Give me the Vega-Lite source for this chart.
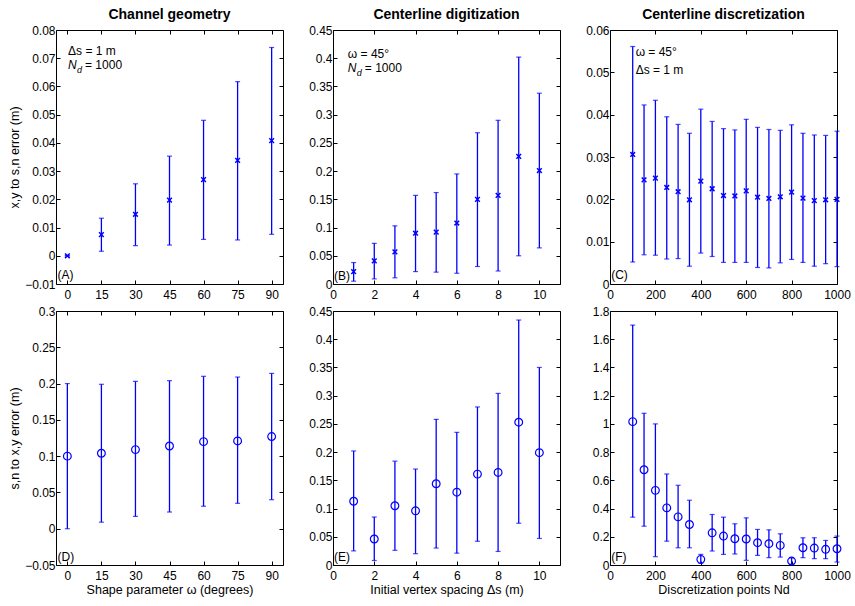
{
  "$schema": "https://vega.github.io/schema/vega-lite/v6.json",
  "background": "white",
  "padding": {"left": 8, "top": 7, "right": 5, "bottom": 5},
  "bounds": "flush",
  "columns": 3,
  "spacing": {"row": 27, "column": 50},
  "config": {
    "font": "Liberation Sans",
    "view": {"stroke": "black", "strokeWidth": 1},
    "axis": {"grid": false, "domain": false, "tickColor": "black", "tickSize": -4, "labelFontSize": 12, "labelColor": "black", "labelFont": "Liberation Sans", "titleFont": "Liberation Sans", "titleFontSize": 12.5, "titleFontWeight": "normal", "titleColor": "black", "labelPadding": 9, "labelFlush": false, "labelOverlap": false},
    "axisY": {"titlePadding": 3, "labelPadding": 5},
    "title": {"fontSize": 14, "fontWeight": "bold", "font": "Liberation Sans", "color": "black", "offset": 2}
  },
  "concat": [
    {
      "title": "Channel geometry",
      "width": 227, "height": 254,
      "data": {"values": [
        {"x": 0, "y": 0, "lo": 0, "hi": 0},
        {"x": 15, "y": 0.0075, "lo": 0.0016, "hi": 0.0133},
        {"x": 30, "y": 0.0147, "lo": 0.0036, "hi": 0.0255},
        {"x": 45, "y": 0.0197, "lo": 0.0038, "hi": 0.0353},
        {"x": 60, "y": 0.027, "lo": 0.0058, "hi": 0.048},
        {"x": 75, "y": 0.0338, "lo": 0.0056, "hi": 0.0617},
        {"x": 90, "y": 0.0408, "lo": 0.0076, "hi": 0.0738}
      ]},
      "layer": [
        {"mark": {"type": "rule", "color": "#0000ff", "strokeWidth": 1.3},
         "encoding": {
           "x": {"field": "x", "type": "quantitative", "scale": {"domain": [-5, 95], "nice": false}, "axis": {"values": [0, 15, 30, 45, 60, 75, 90], "title": null}},
           "y": {"field": "lo", "type": "quantitative", "scale": {"domain": [-0.01, 0.08], "nice": false}, "axis": {"values": [-0.01, 0, 0.01, 0.02, 0.03, 0.04, 0.05, 0.06, 0.07, 0.08], "format": ".2~f", "title": "x,y to s,n error (m)"}},
           "y2": {"field": "hi"}}},
        {"mark": {"type": "tick", "orient": "horizontal", "color": "#0000ff", "size": 5, "thickness": 1.2},
         "encoding": {"x": {"field": "x", "type": "quantitative", "axis": null}, "y": {"field": "lo", "type": "quantitative", "axis": null}}},
        {"mark": {"type": "tick", "orient": "horizontal", "color": "#0000ff", "size": 5, "thickness": 1.2},
         "encoding": {"x": {"field": "x", "type": "quantitative", "axis": null}, "y": {"field": "hi", "type": "quantitative", "axis": null}}},
        {"mark": {"type": "point", "shape": "M-1,-1L1,1M-1,1L1,-1", "filled": false, "color": "#0000ff", "strokeWidth": 1.5, "size": 22, "opacity": 1},
         "encoding": {
           "x": {"field": "x", "type": "quantitative", "axis": {"orient": "top", "labels": false, "title": null, "values": [0, 15, 30, 45, 60, 75, 90]}},
           "y": {"field": "y", "type": "quantitative", "axis": {"orient": "right", "labels": false, "title": null, "values": [-0.01, 0, 0.01, 0.02, 0.03, 0.04, 0.05, 0.06, 0.07, 0.08]}}}},
        {"data": {"values": [{"x": 0.3, "y": 0.0726, "t": "Δs = 1 m"}, {"x": -4.3, "y": -0.0068, "t": "(A)"}]},
         "mark": {"type": "text", "align": "left", "baseline": "middle", "fontSize": 12, "color": "black"},
         "encoding": {"x": {"field": "x", "type": "quantitative", "axis": null}, "y": {"field": "y", "type": "quantitative", "axis": null}, "text": {"field": "t"}}},
        {"data": {"values": [{"x": 0.3, "y": 0.0676}]},
         "layer": [
           {"mark": {"type": "text", "align": "left", "baseline": "middle", "fontSize": 12, "fontStyle": "italic", "color": "black", "text": "N"}},
           {"mark": {"type": "text", "align": "left", "baseline": "middle", "fontSize": 9, "fontStyle": "italic", "color": "black", "text": "d", "dx": 9, "dy": 5}},
           {"mark": {"type": "text", "align": "left", "baseline": "middle", "fontSize": 12, "color": "black", "text": "= 1000", "dx": 17}}
         ],
         "encoding": {"x": {"field": "x", "type": "quantitative", "axis": null}, "y": {"field": "y", "type": "quantitative", "axis": null}}}
      ],
      "resolve": {"axis": {"x": "independent", "y": "independent"}}
    },
    {
      "title": "Centerline digitization",
      "width": 227, "height": 254,
      "data": {"values": [
        {"x": 1, "y": 0.022, "lo": 0.005, "hi": 0.038},
        {"x": 2, "y": 0.041, "lo": 0.009, "hi": 0.072},
        {"x": 3, "y": 0.057, "lo": 0.011, "hi": 0.103},
        {"x": 4, "y": 0.09, "lo": 0.022, "hi": 0.157},
        {"x": 5, "y": 0.092, "lo": 0.021, "hi": 0.162},
        {"x": 6, "y": 0.108, "lo": 0.019, "hi": 0.195},
        {"x": 7, "y": 0.15, "lo": 0.031, "hi": 0.268},
        {"x": 8, "y": 0.157, "lo": 0.023, "hi": 0.29},
        {"x": 9, "y": 0.226, "lo": 0.05, "hi": 0.402},
        {"x": 10, "y": 0.201, "lo": 0.064, "hi": 0.338}
      ]},
      "layer": [
        {"mark": {"type": "rule", "color": "#0000ff", "strokeWidth": 1.3},
         "encoding": {
           "x": {"field": "x", "type": "quantitative", "scale": {"domain": [0, 11], "nice": false}, "axis": {"values": [0, 2, 4, 6, 8, 10], "title": null}},
           "y": {"field": "lo", "type": "quantitative", "scale": {"domain": [0, 0.45], "nice": false}, "axis": {"values": [0, 0.05, 0.1, 0.15, 0.2, 0.25, 0.3, 0.35, 0.4, 0.45], "format": ".2~f", "title": null}},
           "y2": {"field": "hi"}}},
        {"mark": {"type": "tick", "orient": "horizontal", "color": "#0000ff", "size": 5, "thickness": 1.2},
         "encoding": {"x": {"field": "x", "type": "quantitative", "axis": null}, "y": {"field": "lo", "type": "quantitative", "axis": null}}},
        {"mark": {"type": "tick", "orient": "horizontal", "color": "#0000ff", "size": 5, "thickness": 1.2},
         "encoding": {"x": {"field": "x", "type": "quantitative", "axis": null}, "y": {"field": "hi", "type": "quantitative", "axis": null}}},
        {"mark": {"type": "point", "shape": "M-1,-1L1,1M-1,1L1,-1", "filled": false, "color": "#0000ff", "strokeWidth": 1.5, "size": 22, "opacity": 1},
         "encoding": {
           "x": {"field": "x", "type": "quantitative", "axis": {"orient": "top", "labels": false, "title": null, "values": [0, 2, 4, 6, 8, 10]}},
           "y": {"field": "y", "type": "quantitative", "axis": {"orient": "right", "labels": false, "title": null, "values": [0, 0.05, 0.1, 0.15, 0.2, 0.25, 0.3, 0.35, 0.4, 0.45]}}}},
        {"data": {"values": [{"x": 0.72, "y": 0.4075, "t": "ω = 45°"}, {"x": 0.05, "y": 0.015, "t": "(B)"}]},
         "mark": {"type": "text", "align": "left", "baseline": "middle", "fontSize": 12, "color": "black"},
         "encoding": {"x": {"field": "x", "type": "quantitative", "axis": null}, "y": {"field": "y", "type": "quantitative", "axis": null}, "text": {"field": "t"}}},
        {"data": {"values": [{"x": 0.72, "y": 0.3827}]},
         "layer": [
           {"mark": {"type": "text", "align": "left", "baseline": "middle", "fontSize": 12, "fontStyle": "italic", "color": "black", "text": "N"}},
           {"mark": {"type": "text", "align": "left", "baseline": "middle", "fontSize": 9, "fontStyle": "italic", "color": "black", "text": "d", "dx": 9, "dy": 5}},
           {"mark": {"type": "text", "align": "left", "baseline": "middle", "fontSize": 12, "color": "black", "text": "= 1000", "dx": 17}}
         ],
         "encoding": {"x": {"field": "x", "type": "quantitative", "axis": null}, "y": {"field": "y", "type": "quantitative", "axis": null}}}
      ],
      "resolve": {"axis": {"x": "independent", "y": "independent"}}
    },
    {
      "title": "Centerline discretization",
      "width": 227, "height": 254,
      "data": {"values": [
        {"x": 100, "y": 0.0306, "lo": 0.0052, "hi": 0.0561},
        {"x": 150, "y": 0.0246, "lo": 0.0069, "hi": 0.0423},
        {"x": 200, "y": 0.025, "lo": 0.0068, "hi": 0.0434},
        {"x": 250, "y": 0.0228, "lo": 0.0059, "hi": 0.0395},
        {"x": 300, "y": 0.0218, "lo": 0.006, "hi": 0.0377},
        {"x": 350, "y": 0.0199, "lo": 0.0042, "hi": 0.0356},
        {"x": 400, "y": 0.0243, "lo": 0.0073, "hi": 0.0413},
        {"x": 450, "y": 0.0225, "lo": 0.0065, "hi": 0.0384},
        {"x": 500, "y": 0.0209, "lo": 0.0051, "hi": 0.0367},
        {"x": 550, "y": 0.0208, "lo": 0.0051, "hi": 0.0364},
        {"x": 600, "y": 0.022, "lo": 0.0051, "hi": 0.0389},
        {"x": 650, "y": 0.0205, "lo": 0.0039, "hi": 0.037},
        {"x": 700, "y": 0.0202, "lo": 0.0038, "hi": 0.0365},
        {"x": 750, "y": 0.0206, "lo": 0.005, "hi": 0.0363},
        {"x": 800, "y": 0.0217, "lo": 0.0058, "hi": 0.0376},
        {"x": 850, "y": 0.0203, "lo": 0.0051, "hi": 0.0356},
        {"x": 900, "y": 0.0197, "lo": 0.0042, "hi": 0.0352},
        {"x": 950, "y": 0.0199, "lo": 0.0048, "hi": 0.0351},
        {"x": 1000, "y": 0.02, "lo": 0.0041, "hi": 0.0361}
      ]},
      "layer": [
        {"mark": {"type": "rule", "color": "#0000ff", "strokeWidth": 1.3},
         "encoding": {
           "x": {"field": "x", "type": "quantitative", "scale": {"domain": [0, 1000], "nice": false}, "axis": {"values": [0, 200, 400, 600, 800, 1000], "format": "d", "title": null}},
           "y": {"field": "lo", "type": "quantitative", "scale": {"domain": [0, 0.06], "nice": false}, "axis": {"values": [0, 0.01, 0.02, 0.03, 0.04, 0.05, 0.06], "format": ".2~f", "title": null}},
           "y2": {"field": "hi"}}},
        {"mark": {"type": "tick", "orient": "horizontal", "color": "#0000ff", "size": 5, "thickness": 1.2},
         "encoding": {"x": {"field": "x", "type": "quantitative", "axis": null}, "y": {"field": "lo", "type": "quantitative", "axis": null}}},
        {"mark": {"type": "tick", "orient": "horizontal", "color": "#0000ff", "size": 5, "thickness": 1.2},
         "encoding": {"x": {"field": "x", "type": "quantitative", "axis": null}, "y": {"field": "hi", "type": "quantitative", "axis": null}}},
        {"mark": {"type": "point", "shape": "M-1,-1L1,1M-1,1L1,-1", "filled": false, "color": "#0000ff", "strokeWidth": 1.5, "size": 22, "opacity": 1},
         "encoding": {
           "x": {"field": "x", "type": "quantitative", "axis": {"orient": "top", "labels": false, "title": null, "values": [0, 200, 400, 600, 800, 1000]}},
           "y": {"field": "y", "type": "quantitative", "axis": {"orient": "right", "labels": false, "title": null, "values": [0, 0.01, 0.02, 0.03, 0.04, 0.05, 0.06]}}}},
        {"data": {"values": [{"x": 113, "y": 0.0548, "t": "ω = 45°"}, {"x": 113, "y": 0.0506, "t": "Δs = 1 m"}, {"x": 5, "y": 0.0022, "t": "(C)"}]},
         "mark": {"type": "text", "align": "left", "baseline": "middle", "fontSize": 12, "color": "black"},
         "encoding": {"x": {"field": "x", "type": "quantitative", "axis": null}, "y": {"field": "y", "type": "quantitative", "axis": null}, "text": {"field": "t"}}}
      ],
      "resolve": {"axis": {"x": "independent", "y": "independent"}}
    },
    {
      "width": 227, "height": 254,
      "data": {"values": [
        {"x": 0, "y": 0.1, "lo": 0.0, "hi": 0.2},
        {"x": 15, "y": 0.104, "lo": 0.009, "hi": 0.199},
        {"x": 30, "y": 0.109, "lo": 0.017, "hi": 0.203},
        {"x": 45, "y": 0.114, "lo": 0.023, "hi": 0.204},
        {"x": 60, "y": 0.12, "lo": 0.031, "hi": 0.21},
        {"x": 75, "y": 0.121, "lo": 0.035, "hi": 0.209},
        {"x": 90, "y": 0.127, "lo": 0.04, "hi": 0.214}
      ]},
      "layer": [
        {"mark": {"type": "rule", "color": "#0000ff", "strokeWidth": 1.3},
         "encoding": {
           "x": {"field": "x", "type": "quantitative", "scale": {"domain": [-5, 95], "nice": false}, "axis": {"values": [0, 15, 30, 45, 60, 75, 90], "title": "Shape parameter ω (degrees)", "titlePadding": 2}},
           "y": {"field": "lo", "type": "quantitative", "scale": {"domain": [-0.05, 0.3], "nice": false}, "axis": {"values": [-0.05, 0, 0.05, 0.1, 0.15, 0.2, 0.25, 0.3], "format": ".2~f", "title": "s,n to x,y error (m)"}},
           "y2": {"field": "hi"}}},
        {"mark": {"type": "tick", "orient": "horizontal", "color": "#0000ff", "size": 5, "thickness": 1.2},
         "encoding": {"x": {"field": "x", "type": "quantitative", "axis": null}, "y": {"field": "lo", "type": "quantitative", "axis": null}}},
        {"mark": {"type": "tick", "orient": "horizontal", "color": "#0000ff", "size": 5, "thickness": 1.2},
         "encoding": {"x": {"field": "x", "type": "quantitative", "axis": null}, "y": {"field": "hi", "type": "quantitative", "axis": null}}},
        {"mark": {"type": "point", "shape": "circle", "filled": false, "color": "#0000ff", "strokeWidth": 1.2, "size": 60, "opacity": 1},
         "encoding": {
           "x": {"field": "x", "type": "quantitative", "axis": {"orient": "top", "labels": false, "title": null, "values": [0, 15, 30, 45, 60, 75, 90]}},
           "y": {"field": "y", "type": "quantitative", "axis": {"orient": "right", "labels": false, "title": null, "values": [-0.05, 0, 0.05, 0.1, 0.15, 0.2, 0.25, 0.3]}}}},
        {"data": {"values": [{"x": -4.3, "y": -0.0395, "t": "(D)"}]},
         "mark": {"type": "text", "align": "left", "baseline": "middle", "fontSize": 12, "color": "black"},
         "encoding": {"x": {"field": "x", "type": "quantitative", "axis": null}, "y": {"field": "y", "type": "quantitative", "axis": null}, "text": {"field": "t"}}}
      ],
      "resolve": {"axis": {"x": "independent", "y": "independent"}}
    },
    {
      "width": 227, "height": 254,
      "data": {"values": [
        {"x": 1, "y": 0.113, "lo": 0.025, "hi": 0.202},
        {"x": 2, "y": 0.046, "lo": 0.008, "hi": 0.085},
        {"x": 3, "y": 0.105, "lo": 0.026, "hi": 0.184},
        {"x": 4, "y": 0.096, "lo": 0.02, "hi": 0.17},
        {"x": 5, "y": 0.144, "lo": 0.03, "hi": 0.258},
        {"x": 6, "y": 0.129, "lo": 0.021, "hi": 0.235},
        {"x": 7, "y": 0.161, "lo": 0.042, "hi": 0.28},
        {"x": 8, "y": 0.164, "lo": 0.024, "hi": 0.304},
        {"x": 9, "y": 0.253, "lo": 0.074, "hi": 0.434},
        {"x": 10, "y": 0.199, "lo": 0.047, "hi": 0.35}
      ]},
      "layer": [
        {"mark": {"type": "rule", "color": "#0000ff", "strokeWidth": 1.3},
         "encoding": {
           "x": {"field": "x", "type": "quantitative", "scale": {"domain": [0, 11], "nice": false}, "axis": {"values": [0, 2, 4, 6, 8, 10], "title": "Initial vertex spacing Δs (m)", "titlePadding": 2}},
           "y": {"field": "lo", "type": "quantitative", "scale": {"domain": [0, 0.45], "nice": false}, "axis": {"values": [0, 0.05, 0.1, 0.15, 0.2, 0.25, 0.3, 0.35, 0.4, 0.45], "format": ".2~f", "title": null}},
           "y2": {"field": "hi"}}},
        {"mark": {"type": "tick", "orient": "horizontal", "color": "#0000ff", "size": 5, "thickness": 1.2},
         "encoding": {"x": {"field": "x", "type": "quantitative", "axis": null}, "y": {"field": "lo", "type": "quantitative", "axis": null}}},
        {"mark": {"type": "tick", "orient": "horizontal", "color": "#0000ff", "size": 5, "thickness": 1.2},
         "encoding": {"x": {"field": "x", "type": "quantitative", "axis": null}, "y": {"field": "hi", "type": "quantitative", "axis": null}}},
        {"mark": {"type": "point", "shape": "circle", "filled": false, "color": "#0000ff", "strokeWidth": 1.2, "size": 60, "opacity": 1},
         "encoding": {
           "x": {"field": "x", "type": "quantitative", "axis": {"orient": "top", "labels": false, "title": null, "values": [0, 2, 4, 6, 8, 10]}},
           "y": {"field": "y", "type": "quantitative", "axis": {"orient": "right", "labels": false, "title": null, "values": [0, 0.05, 0.1, 0.15, 0.2, 0.25, 0.3, 0.35, 0.4, 0.45]}}}},
        {"data": {"values": [{"x": 0.05, "y": 0.015, "t": "(E)"}]},
         "mark": {"type": "text", "align": "left", "baseline": "middle", "fontSize": 12, "color": "black"},
         "encoding": {"x": {"field": "x", "type": "quantitative", "axis": null}, "y": {"field": "y", "type": "quantitative", "axis": null}, "text": {"field": "t"}}}
      ],
      "resolve": {"axis": {"x": "independent", "y": "independent"}}
    },
    {
      "width": 227, "height": 254,
      "data": {"values": [
        {"x": 100, "y": 1.016, "lo": 0.339, "hi": 1.7},
        {"x": 150, "y": 0.675, "lo": 0.275, "hi": 1.075},
        {"x": 200, "y": 0.529, "lo": 0.059, "hi": 1.0},
        {"x": 250, "y": 0.405, "lo": 0.169, "hi": 0.645},
        {"x": 300, "y": 0.341, "lo": 0.122, "hi": 0.565},
        {"x": 350, "y": 0.287, "lo": 0.122, "hi": 0.459},
        {"x": 400, "y": 0.04, "lo": 0.012, "hi": 0.075},
        {"x": 450, "y": 0.228, "lo": 0.099, "hi": 0.358},
        {"x": 500, "y": 0.205, "lo": 0.075, "hi": 0.339},
        {"x": 550, "y": 0.186, "lo": 0.078, "hi": 0.292},
        {"x": 600, "y": 0.184, "lo": 0.033, "hi": 0.334},
        {"x": 650, "y": 0.158, "lo": 0.068, "hi": 0.252},
        {"x": 700, "y": 0.151, "lo": 0.052, "hi": 0.249},
        {"x": 750, "y": 0.139, "lo": 0.056, "hi": 0.221},
        {"x": 800, "y": 0.028, "lo": 0.005, "hi": 0.05},
        {"x": 850, "y": 0.122, "lo": 0.052, "hi": 0.193},
        {"x": 900, "y": 0.12, "lo": 0.045, "hi": 0.193},
        {"x": 950, "y": 0.111, "lo": 0.045, "hi": 0.174},
        {"x": 1000, "y": 0.115, "lo": 0.021, "hi": 0.205}
      ]},
      "layer": [
        {"mark": {"type": "rule", "color": "#0000ff", "strokeWidth": 1.3},
         "encoding": {
           "x": {"field": "x", "type": "quantitative", "scale": {"domain": [0, 1000], "nice": false}, "axis": {"values": [0, 200, 400, 600, 800, 1000], "format": "d", "title": "Discretization points Nd", "titlePadding": 2}},
           "y": {"field": "lo", "type": "quantitative", "scale": {"domain": [0, 1.8], "nice": false}, "axis": {"values": [0, 0.2, 0.4, 0.6, 0.8, 1, 1.2, 1.4, 1.6, 1.8], "format": ".1~f", "title": null}},
           "y2": {"field": "hi"}}},
        {"mark": {"type": "tick", "orient": "horizontal", "color": "#0000ff", "size": 5, "thickness": 1.2},
         "encoding": {"x": {"field": "x", "type": "quantitative", "axis": null}, "y": {"field": "lo", "type": "quantitative", "axis": null}}},
        {"mark": {"type": "tick", "orient": "horizontal", "color": "#0000ff", "size": 5, "thickness": 1.2},
         "encoding": {"x": {"field": "x", "type": "quantitative", "axis": null}, "y": {"field": "hi", "type": "quantitative", "axis": null}}},
        {"mark": {"type": "point", "shape": "circle", "filled": false, "color": "#0000ff", "strokeWidth": 1.2, "size": 60, "opacity": 1},
         "encoding": {
           "x": {"field": "x", "type": "quantitative", "axis": {"orient": "top", "labels": false, "title": null, "values": [0, 200, 400, 600, 800, 1000]}},
           "y": {"field": "y", "type": "quantitative", "axis": {"orient": "right", "labels": false, "title": null, "values": [0, 0.2, 0.4, 0.6, 0.8, 1, 1.2, 1.4, 1.6, 1.8]}}}},
        {"data": {"values": [{"x": 5, "y": 0.06, "t": "(F)"}]},
         "mark": {"type": "text", "align": "left", "baseline": "middle", "fontSize": 12, "color": "black"},
         "encoding": {"x": {"field": "x", "type": "quantitative", "axis": null}, "y": {"field": "y", "type": "quantitative", "axis": null}, "text": {"field": "t"}}}
      ],
      "resolve": {"axis": {"x": "independent", "y": "independent"}}
    }
  ]
}
